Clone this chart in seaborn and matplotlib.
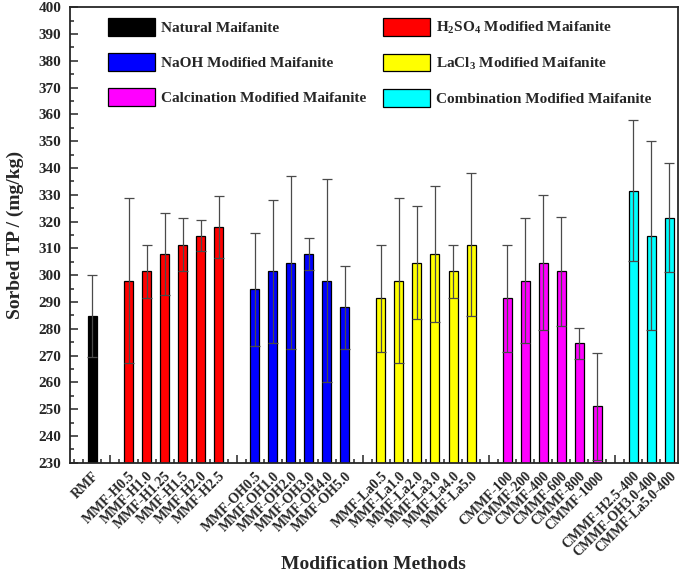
import matplotlib
matplotlib.use("Agg")
import matplotlib.pyplot as plt
from matplotlib.patches import Patch
from matplotlib.ticker import MultipleLocator
import pandas as pd
import seaborn as sns

# sample names per group
natural = ['RMF']
h2so4 = ['MMF-H0.5', 'MMF-H1.0', 'MMF-H1.25', 'MMF-H1.5', 'MMF-H2.0', 'MMF-H2.5']
naoh = ['MMF-OH0.5', 'MMF-OH1.0', 'MMF-OH2.0', 'MMF-OH3.0', 'MMF-OH4.0', 'MMF-OH5.0']
lacl3 = ['MMF-La0.5', 'MMF-La1.0', 'MMF-La2.0', 'MMF-La3.0', 'MMF-La4.0', 'MMF-La5.0']
calc = ['CMMF-100', 'CMMF-200', 'CMMF-400', 'CMMF-600', 'CMMF-800', 'CMMF-1000']
comb = ['CMMF-H2.5-400', 'CMMF-OH3.0-400', 'CMMF-La5.0-400']

# sorbed TP (mg/kg) and error
natural_tp = [284.7]
natural_err = [15.3]
h2so4_tp = [298.0, 301.4, 308.0, 311.4, 314.8, 318.1]
h2so4_err = [30.8, 10.0, 15.3, 10.0, 5.8, 11.6]
naoh_tp = [294.7, 301.4, 304.7, 308.0, 298.0, 288.0]
naoh_err = [21.0, 26.6, 32.3, 6.0, 38.0, 15.4]
lacl3_tp = [291.3, 298.0, 304.7, 308.0, 301.4, 311.4]
lacl3_err = [20.1, 30.8, 21.0, 25.3, 10.0, 26.6]
calc_tp = [291.3, 298.0, 304.7, 301.4, 274.5, 251.1]
calc_err = [20.1, 23.3, 25.3, 20.2, 5.8, 20.0]
comb_tp = [331.6, 314.8, 321.5]
comb_err = [26.4, 35.4, 20.3]

group_names = ['Natural Maifanite', r'H$_\mathbf{2}$SO$_\mathbf{4}$ Modified Maifanite',
               'NaOH Modified Maifanite', r'LaCl$_\mathbf{3}$ Modified Maifanite',
               'Calcination Modified Maifanite', 'Combination Modified Maifanite']
group_colors = ['#000000', '#FF0000', '#0000FF', '#FFFF00', '#FF00FF', '#00FFFF']

groups = [natural, h2so4, naoh, lacl3, calc, comb]
tps = [natural_tp, h2so4_tp, naoh_tp, lacl3_tp, calc_tp, comb_tp]
errs = [natural_err, h2so4_err, naoh_err, lacl3_err, calc_err, comb_err]

rows = []
for g, names, tp, er in zip(group_names, groups, tps, errs):
    for n, v, e in zip(names, tp, er):
        rows.append({'Sample': n, 'TP': v, 'Err': e, 'Group': g})
df = pd.DataFrame(rows)

# category order with one blank slot between groups
order = []
for i, names in enumerate(groups):
    if i > 0:
        order.append(' ' * i)
    order += names

sns.set_style('ticks')
plt.rcParams['font.family'] = ['Liberation Serif', 'DejaVu Serif']
plt.rcParams['font.weight'] = 'bold'
plt.rcParams['mathtext.fontset'] = 'custom'
plt.rcParams['mathtext.rm'] = 'Liberation Serif:bold'
plt.rcParams['mathtext.bf'] = 'Liberation Serif:bold'
plt.rcParams['mathtext.it'] = 'Liberation Serif:bold'

fig = plt.figure(figsize=(6.85, 5.75), dpi=100)
ax = fig.add_axes([0.1018, 0.1953, 0.888, 0.792])

sns.barplot(data=df, x='Sample', y='TP', hue='Group', order=order,
            hue_order=group_names, palette=group_colors, dodge=False,
            saturation=1, width=0.5, edgecolor='black', linewidth=0.9,
            errorbar=None, legend=False, ax=ax)

xpos = [order.index(s) for s in df['Sample']]
ax.errorbar(xpos, df['TP'], yerr=df['Err'], fmt='none', ecolor='#4a4a4a',
            elinewidth=0.9, capsize=3.5, capthick=0.9, zorder=5)

ax.set_ylim(230, 400)
ax.set_xlim(-1.26, len(order) - 1 + 0.48)
ax.yaxis.set_major_locator(MultipleLocator(10))
ax.yaxis.set_minor_locator(MultipleLocator(5))
ax.xaxis.set_minor_locator(MultipleLocator(0.5))
ax.tick_params(axis='both', which='both', direction='in', top=False, right=False)
ax.tick_params(axis='both', which='major', length=6, width=1.1)
ax.tick_params(axis='both', which='minor', length=3, width=1.1)
ax.tick_params(axis='y', which='major', labelsize=11, pad=6)
ax.tick_params(axis='x', which='major', pad=5)
for lab in ax.get_yticklabels():
    lab.set_fontweight('bold')
ax.set_xticks(range(len(order)))
ax.set_xticklabels(order, rotation=45, ha='right', rotation_mode='anchor',
                   fontsize=10, fontweight='bold')
for sp in ax.spines.values():
    sp.set_linewidth(1.3)
    sp.set_visible(True)

ax.set_ylabel('Sorbed TP / (mg/kg)', fontsize=14, fontweight='bold')
ax.set_xlabel('Modification Methods', fontsize=14, fontweight='bold')
ax.yaxis.set_label_coords(-0.076, 0.5)
ax.xaxis.set_label_coords(0.5, -0.205)

# legend: column-wise fill, 2 columns
leg_order = [0, 2, 4, 1, 3, 5]
handles = [Patch(facecolor=group_colors[i], edgecolor='black', linewidth=0.9,
                 label=group_names[i]) for i in leg_order]
ax.legend(handles=handles, ncol=2, loc='upper left', bbox_to_anchor=(0.053, 0.99),
          frameon=False, handlelength=3.1, handleheight=1.4,
          handletextpad=0.35, labelspacing=1.15, columnspacing=1.1,
          borderaxespad=0, prop={'weight': 'bold', 'size': 11})

fig.savefig('out.png', dpi=100)
